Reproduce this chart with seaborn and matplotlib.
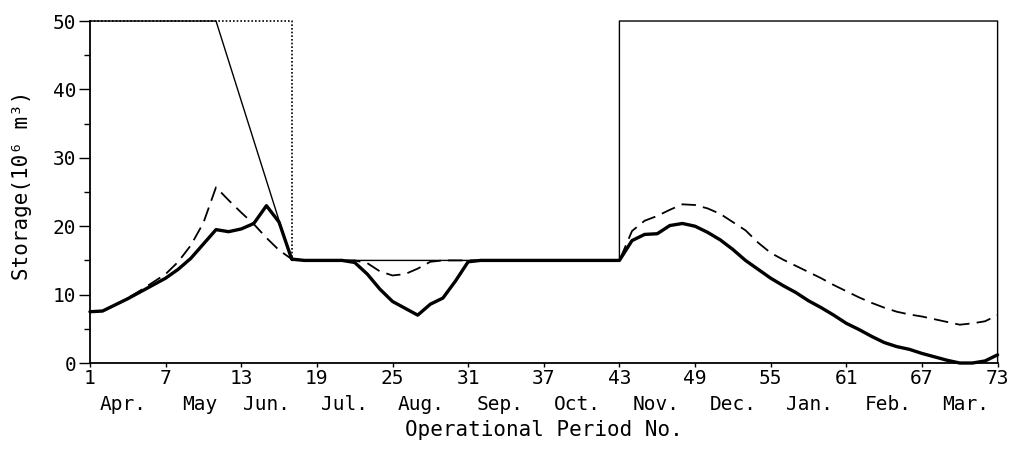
import matplotlib
matplotlib.use('Agg')
import matplotlib.pyplot as plt
import matplotlib.transforms as mtransforms
from matplotlib.ticker import MultipleLocator
import pandas as pd
import seaborn as sns

# operational periods (73 per year, Apr -> Mar)
periods = list(range(1, 74))

# storage (10^6 m^3), thick solid curve
storage_solid = [
    7.5, 7.6, 8.5, 9.4, 10.4, 11.4, 12.4, 13.7, 15.3, 17.4,
    19.5, 19.2, 19.6, 20.4, 23.0, 20.6, 15.2, 15.0, 15.0, 15.0,
    15.0, 14.7, 13.0, 10.8, 9.0, 8.0, 7.0, 8.6, 9.5, 12.0,
    14.8, 15.0, 15.0, 15.0, 15.0, 15.0, 15.0, 15.0, 15.0, 15.0,
    15.0, 15.0, 15.0, 17.9, 18.8, 18.9, 20.1, 20.4, 20.0, 19.1,
    18.0, 16.6, 15.0, 13.7, 12.4, 11.3, 10.3, 9.1, 8.1, 7.0,
    5.8, 4.9, 3.9, 3.0, 2.4, 2.0, 1.4, 0.9, 0.4, 0.0,
    0.0, 0.3, 1.2,
]

# storage (10^6 m^3), dashed curve
storage_dashed = [
    7.5, 7.6, 8.5, 9.5, 10.6, 11.8, 13.0, 14.8, 17.2, 20.5,
    25.7, 23.8, 22.0, 20.3, 18.3, 16.5, 15.2, 15.0, 15.0, 15.0,
    15.0, 15.0, 14.6, 13.4, 12.8, 13.0, 13.8, 14.8, 15.0, 15.0,
    15.0, 15.0, 15.0, 15.0, 15.0, 15.0, 15.0, 15.0, 15.0, 15.0,
    15.0, 15.0, 15.0, 19.3, 20.8, 21.5, 22.4, 23.2, 23.1, 22.6,
    21.8, 20.6, 19.4, 17.6, 16.1, 15.1, 14.2, 13.3, 12.4, 11.4,
    10.5, 9.6, 8.8, 8.1, 7.5, 7.1, 6.8, 6.4, 6.0, 5.6,
    5.8, 6.1, 7.0,
]

# rule curves (vertices)
rule_solid_period = [1, 11, 17, 43, 43, 73, 73]
rule_solid_storage = [50, 50, 15, 15, 50, 50, 0]
rule_dotted_period = [1, 17, 17]
rule_dotted_storage = [50, 50, 15]

tick_periods = list(range(1, 74, 6))
months = ['Apr.', 'May', 'Jun.', 'Jul.', 'Aug.', 'Sep.',
          'Oct.', 'Nov.', 'Dec.', 'Jan.', 'Feb.', 'Mar.']
month_centres = [3.6, 9.7, 15.0, 21.2, 27.3, 33.5, 39.7, 45.9, 52.0, 58.1, 64.3, 70.5]

sns.set_style('ticks')
plt.rcParams['font.family'] = ['DejaVu Sans Mono', 'DejaVu Sans']
plt.rcParams['font.size'] = 14
for key in ['text.color', 'axes.labelcolor', 'xtick.color', 'ytick.color', 'axes.edgecolor']:
    plt.rcParams[key] = 'black'

df = pd.DataFrame({'period': periods, 'solid': storage_solid, 'dashed': storage_dashed})
rule_a = pd.DataFrame({'period': rule_solid_period, 'storage': rule_solid_storage})
rule_b = pd.DataFrame({'period': rule_dotted_period, 'storage': rule_dotted_storage})

fig = plt.figure(figsize=(10.13, 4.5), dpi=100)
ax = fig.add_axes([0.0888, 0.1933, 0.896, 0.76])

sns.lineplot(data=rule_b, x='period', y='storage', ax=ax, color='k', lw=1.2,
             linestyle=(0, (1, 1.2)), sort=False, estimator=None, clip_on=False)
sns.lineplot(data=rule_a, x='period', y='storage', ax=ax, color='k', lw=1.0,
             sort=False, estimator=None, clip_on=False)
sns.lineplot(data=df, x='period', y='dashed', ax=ax, color='k', lw=1.3,
             linestyle=(0, (8, 4)), clip_on=False)
sns.lineplot(data=df, x='period', y='solid', ax=ax, color='k', lw=2.4, clip_on=False)

ax.set_xlim(1, 73)
ax.set_ylim(0, 50)
ax.set_xticks(tick_periods)
ax.set_yticks(range(0, 51, 10))
ax.yaxis.set_minor_locator(MultipleLocator(5))
ax.tick_params(axis='y', which='major', direction='out', length=8, width=1, pad=2, labelsize=14)
ax.tick_params(axis='y', which='minor', direction='out', length=4, width=1)
ax.tick_params(axis='x', direction='out', length=3, width=1, pad=1, labelsize=14)

sns.despine(ax=ax, top=True, right=True)
for s in ['left', 'bottom']:
    ax.spines[s].set_linewidth(1.3)
    ax.spines[s].set_color('k')

# month names under the period numbers
trans = mtransforms.blended_transform_factory(ax.transData, fig.transFigure)
for name, xc in zip(months, month_centres):
    ax.text(xc, 0.1, name, transform=trans, ha='center', va='center', fontsize=14)

ax.set_xlabel('Operational Period No.', fontsize=15, va='center')
ax.xaxis.set_label_coords(0.5, -0.196)
ax.set_ylabel('Storage(10\u2076 m\u00b3)', fontsize=15, va='center')
ax.yaxis.set_label_coords(-0.0749, 0.52)

fig.savefig('out.png', dpi=100, facecolor='white')
